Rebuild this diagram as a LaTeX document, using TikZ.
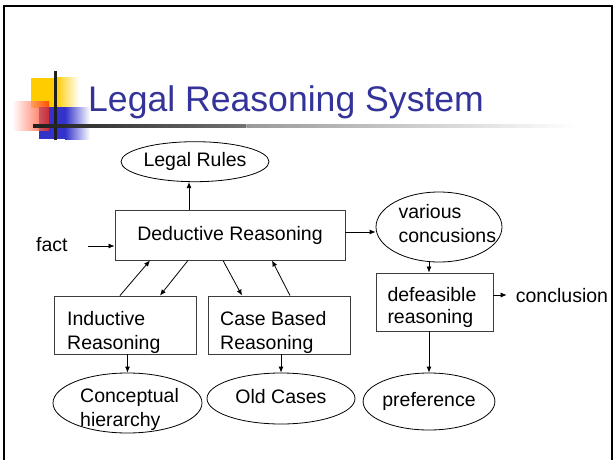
\documentclass[tikz,border=0pt]{standalone}
\usepackage{fontspec}
\setmainfont{Liberation Sans}
\usetikzlibrary{shapes.geometric,arrows.meta,calc}
\definecolor{titleblue}{RGB}{51,51,153}
\definecolor{logoyellow}{RGB}{255,204,0}
\definecolor{logored}{RGB}{255,40,0}
\definecolor{logoblue}{RGB}{51,51,204}
\definecolor{boxgray}{RGB}{60,60,60}
\newcommand\bodyfont{\fontsize{19.5}{24}\selectfont}
\newcommand\firstline{\rule{0pt}{17pt}}
\begin{document}
\begin{tikzpicture}[x=1pt,y=-1pt,
  every node/.style={font=\bodyfont},
  boxnode/.style={draw=boxgray,line width=0.9pt,rectangle,inner sep=0pt},
  ellnode/.style={draw=black,line width=0.8pt,ellipse,inner sep=0pt,text height=14pt,text depth=4pt},
  txt/.style={inner sep=0pt,align=left,anchor=north west},
  arr/.style={draw=black,line width=0.8pt,-{Latex[length=6pt,width=5pt]}}]
\useasboundingbox (0,0) rectangle (613,460);
% frame
\draw[line width=2pt] (4,462) -- (4,6) -- (611.7,6) -- (611.7,462);
% logo
\fill[logoyellow] (31,78) rectangle (56,108);
\shade[left color=logoyellow,right color=white] (56,78) rectangle (79,108);
\fill[logoblue] (39,107) rectangle (65,139);
\shade[left color=logoblue,right color=white] (65,107) rectangle (90,139);
\shade[left color=white,right color=logored,opacity=0.75] (12,101) rectangle (49,130);
\draw[line width=3pt,black!88] (55.5,71) -- (55.5,140);
\shade[left color=black!88,right color=black!55] (33,124) rectangle (246,127);
\shade[left color=black!40,right color=white] (246.5,124) rectangle (575,127);
% title
\node[anchor=base west,inner sep=0pt,text=titleblue,font=\fontsize{35.6}{40}\selectfont] (title) at (88,111.7) {Legal Reasoning System};
% nodes
\node[ellnode,minimum width=148pt,minimum height=40pt] (lr) at (195,161.7) {Legal Rules};
\node[boxnode,minimum width=230pt,minimum height=50pt,text height=14pt,text depth=4pt] (ded) at (230,235) {Deductive Reasoning};
\node[anchor=base west,inner sep=0pt] (fact) at (36,251.7) {fact};
\coordinate (factarr) at (88,246);
\node[boxnode,minimum width=142pt,minimum height=58pt] (ind) at (125,325) {};
\node[txt] (indtxt) at (67,308) {\firstline Inductive\\Reasoning};
\node[boxnode,minimum width=142pt,minimum height=58pt] (cbr) at (279,325) {};
\node[txt] (cbrtxt) at (220,308) {\firstline Case Based\\Reasoning};
\node[ellnode,minimum width=149pt,minimum height=60pt] (ch) at (127.5,403) {};
\node[txt] (chtxt) at (80,385.3) {\firstline Conceptual\\hierarchy};
\node[ellnode,minimum width=148pt,minimum height=51pt] (oc) at (281,398.5) {Old Cases};
\node[ellnode,minimum width=126pt,minimum height=70pt] (vc) at (439,227) {};
\node[txt] (vctxt) at (398.3,201.3) {\firstline various\\concusions};
\node[boxnode,minimum width=117pt,minimum height=58pt] (dr) at (434.5,302) {};
\node[txt] (drtxt) at (387.3,284) {\firstline defeasible\\[-2pt]reasoning};
\node[anchor=base west,inner sep=0pt] (concl) at (515.7,302) {conclusion};
\node[ellnode,minimum width=128pt,minimum height=57pt] (pref) at (429,401.5) {preference};
% connectors
\draw[arr] ([xshift=-41pt]ded.north) -- ([xshift=-41pt]ded.north |- lr.south);
\draw[arr] (factarr) -- (factarr -| ded.west);
\draw[arr] ([xshift=-5pt]ind.north) -- ([xshift=-80pt]ded.south);
\draw[arr] ([xshift=-42pt]ded.south) -- ([xshift=35pt]ind.north);
\draw[arr] ([xshift=-7pt]ded.south) -- ([xshift=-37pt]cbr.north);
\draw[arr] ([xshift=11pt]cbr.north) -- ([xshift=42pt]ded.south);
\draw[arr] (ch.north |- ind.south) -- (ch.north);
\draw[arr] (oc.north |- cbr.south) -- (oc.north);
\draw[arr] ([yshift=3pt]ded.east) -- ([yshift=3pt]ded.east -| vc.west);
\draw[arr] ([xshift=-5.5pt]dr.north |- vc.south) -- ([xshift=-5.5pt]dr.north);
\draw[arr] ([yshift=7pt]dr.east) -- ([yshift=7pt]dr.east -| concl.west) [shorten >=9pt];
\draw[arr] (pref.north |- dr.south) -- (pref.north);
\end{tikzpicture}
\end{document}
